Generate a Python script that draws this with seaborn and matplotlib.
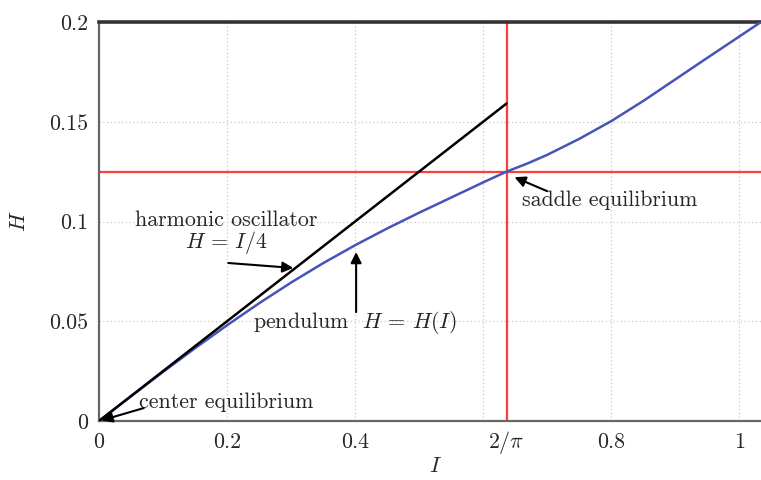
import numpy as np
import pandas as pd
import matplotlib
matplotlib.use("Agg")
import matplotlib.pyplot as plt
import seaborn as sns

# ---- data ----
pend_I = [0, 0.05, 0.1, 0.15, 0.2, 0.25, 0.3, 0.35, 0.4, 0.45, 0.5, 0.55,
          0.6, 0.6366, 0.67, 0.7, 0.75, 0.8, 0.85, 0.9, 0.95, 1.0, 1.034]
pend_H = [0, 0.0124, 0.0246, 0.0365, 0.0480, 0.0590, 0.0694, 0.0791, 0.0881,
          0.0965, 0.1044, 0.1120, 0.1196, 0.125, 0.1292, 0.1334, 0.1414,
          0.1503, 0.1604, 0.1712, 0.1820, 0.1927, 0.2]
harm_I = [0, 0.6366]
harm_H = [0, 0.15915]
saddle_I = 0.6366
saddle_H = 0.125

xticks = [0, 0.2, 0.4, 0.6, 0.8, 1.0]
xticklabels = ["0", "0.2", "0.4", "", "0.8", "1"]
yticks = [0, 0.05, 0.1, 0.15, 0.2]
yticklabels = ["0", "0.05", "0.1", "0.15", "0.2"]

sns.set_style("white")
plt.rcParams["font.family"] = ["cmr10", "DejaVu Serif"]
plt.rcParams["mathtext.fontset"] = "cm"
plt.rcParams["axes.formatter.use_mathtext"] = True

fig = plt.figure(figsize=(7.61, 4.80), dpi=100)
ax = fig.add_axes([99 / 761, 59 / 480, 1 - 99 / 761, (421 - 22) / 480])

FS = 15.8

ax.axvline(saddle_I, color="#ff3b3b", lw=1.6, zorder=2)
ax.axhline(saddle_H, color="#ff3b3b", lw=1.6, zorder=2)

df_p = pd.DataFrame({"I": pend_I, "H": pend_H})
df_h = pd.DataFrame({"I": harm_I, "H": harm_H})
sns.lineplot(data=df_p, x="I", y="H", ax=ax, color="#4654b8", lw=1.8,
             zorder=3, sort=False)
sns.lineplot(data=df_h, x="I", y="H", ax=ax, color="black", lw=1.8,
             zorder=3, sort=False)

ax.set_xlim(0, 1.034)
ax.set_ylim(0, 0.2)

ax.set_xticks(xticks)
ax.set_xticklabels(xticklabels)
ax.set_xticks([saddle_I], minor=True)
ax.set_xticklabels([r"$2/\pi$"], minor=True)
ax.set_yticks(yticks)
ax.set_yticklabels(yticklabels)
ax.tick_params(axis="both", which="major", direction="in", length=6,
               width=1.0, color="#555555", labelsize=FS, pad=8)
ax.tick_params(axis="x", which="minor", length=0, labelsize=FS, pad=6)

ax.grid(True, which="major", color="#c8c8c8", lw=0.9, linestyle=(0, (1, 2)))

for s in ["left", "bottom"]:
    ax.spines[s].set_color("#666666")
    ax.spines[s].set_linewidth(1.6)
ax.spines["top"].set_color("#333333")
ax.spines["top"].set_linewidth(2.6)
ax.spines["right"].set_visible(False)

ax.set_xlabel(r"$I$", fontsize=FS)
ax.xaxis.set_label_coords(0.508, -0.088)
ax.set_ylabel(r"$H$", fontsize=FS, labelpad=14)

arrow = dict(arrowstyle="-|>", color="black", lw=1.5, mutation_scale=16,
             shrinkA=0, shrinkB=0)

ax.text(0.199, 0.1007, "harmonic oscillator", fontsize=FS, ha="center",
        va="center", zorder=5)
ax.text(0.199, 0.0897, r"$H\,=\,I/4$", fontsize=FS, ha="center",
        va="center", zorder=5)
ax.annotate("", xy=(0.3035, 0.0767), xytext=(0.202, 0.0792),
            arrowprops=arrow, zorder=5)

ax.text(0.240, 0.0496, r"pendulum  $H\,=\,H(I)$", fontsize=FS, ha="left",
        va="center", zorder=5)
ax.annotate("", xy=(0.4016, 0.0847), xytext=(0.4016, 0.0546),
            arrowprops=arrow, zorder=5)

ax.text(0.660, 0.1107, "saddle equilibrium", fontsize=FS, ha="left",
        va="center", zorder=5)
ax.annotate("", xy=(0.649, 0.1222), xytext=(0.700, 0.1152),
            arrowprops=arrow, zorder=5)

ax.text(0.062, 0.0095, "center equilibrium", fontsize=FS, ha="left",
        va="center", zorder=5)
ax.annotate("", xy=(0.004, 0.0003), xytext=(0.070, 0.0065),
            arrowprops=arrow, zorder=5)

fig.savefig("out.png", dpi=100)
